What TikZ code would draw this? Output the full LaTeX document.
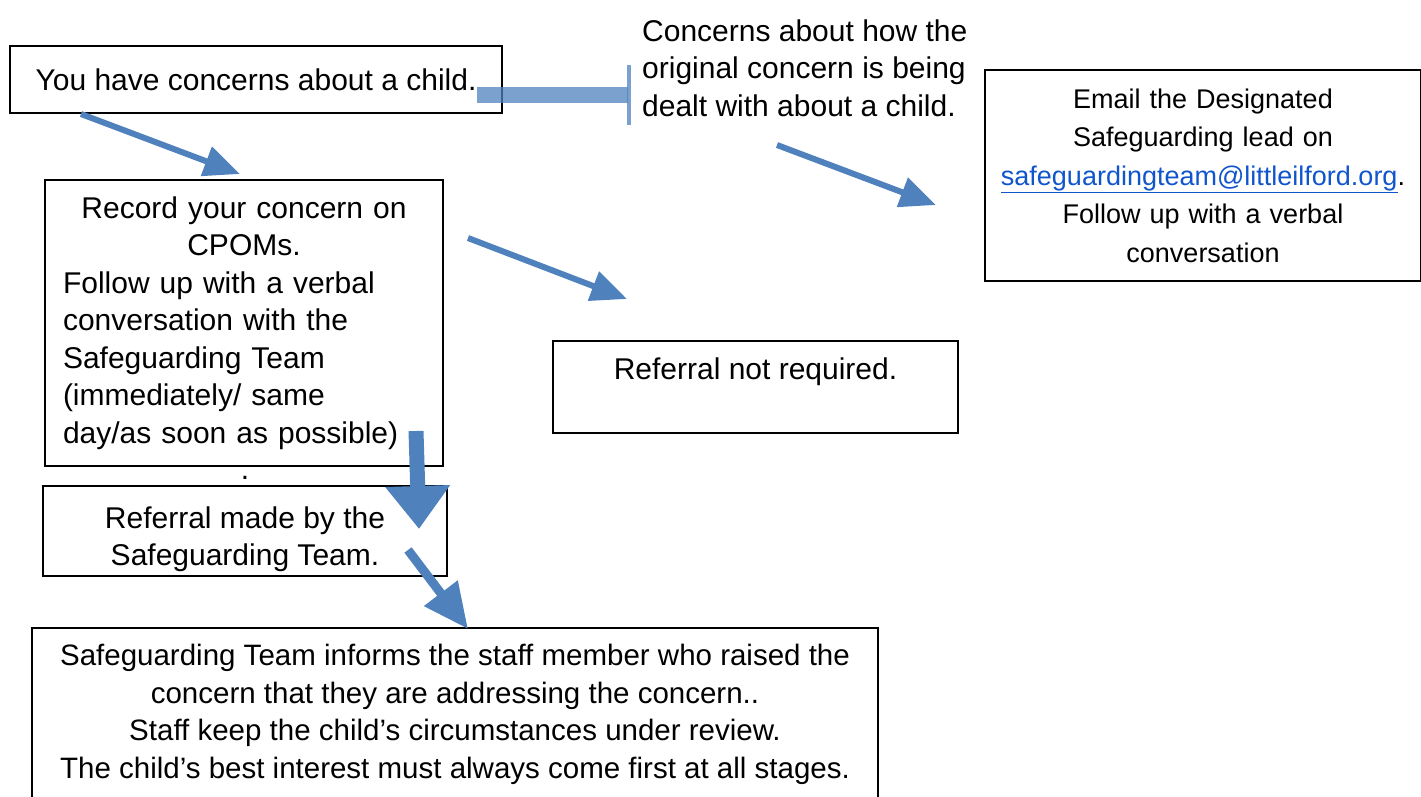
\documentclass[tikz,border=0pt]{standalone}
\usepackage{fontspec}
\setmainfont{Liberation Sans}
\usetikzlibrary{arrows.meta, positioning, calc}
\definecolor{arrowblue}{RGB}{79,129,189}
\definecolor{linkblue}{RGB}{17,85,204}
\newcommand{\bodyfont}{\fontsize{30}{37.5}\selectfont}
\newcommand{\emailfont}{\fontsize{27}{38.5}\selectfont}
\newcommand{\reviewfont}{\fontsize{29.5}{37.7}\selectfont}
\tikzset{
  box/.style={rectangle, draw=black, line width=2pt, inner sep=0pt,
    align=center, font=\bodyfont},
  plaintext/.style={inner sep=0pt, align=left, font=\bodyfont},
  slimarrow/.style={-{Triangle[length=36pt,width=30pt]}, line width=6pt, color=arrowblue},
  fatarrow/.style={-{Triangle[length=43pt,width=62pt]}, line width=15pt, color=arrowblue},
  midarrow/.style={-{Triangle[length=45pt,width=40pt]}, line width=9pt, color=arrowblue},
  barlink/.style={-{Bar[width=60pt,line width=4pt]}, line width=16pt,
    color=arrowblue, draw opacity=0.75}
}

\begin{document}
\begin{tikzpicture}[x=1pt, y=-1pt]
  \useasboundingbox (0,0) rectangle (1421,796);
  \clip (0,0) rectangle (1421,796);
  % Boxes
  \node[box, minimum width=492, minimum height=67] (youhave) at (256,79.5)
    {You have concerns about a child.};
  \node[plaintext, anchor=west] (concern) at (642,68)
    {Concerns about how the\\original concern is being\\dealt with about a child.};
  \node[box, minimum width=436, minimum height=211, text width=420, font=\emailfont] (email) at (1203,175.5)
    {Email the Designated\\Safeguarding lead on\\
     {\color{linkblue}\underline{safeguardingteam@littleilford.org}}.\\
     Follow up with a verbal\\conversation};
  \node[box, minimum width=398, minimum height=286, text width=362, align=left] (record) at (244,323)
    {{\centering Record your concern on\\CPOMs.\par}
     Follow up with a verbal\\conversation with the\\Safeguarding Team\\
     (immediately/ same\\day/as soon as possible)};
  \node[plaintext] (dot) at (245,478) {.};
  \node[box, minimum width=405, minimum height=92] (notreq) at (755.5,387)
    {Referral not required.\\ \mbox{}};
  \node[box, minimum width=404, minimum height=90] (made) at (245,531) {};
  \node[plaintext, align=center] (madetext) at (245,539)
    {Referral made by the\\Safeguarding Team.};
  \node[box, minimum width=846, minimum height=204, font=\reviewfont] (informs) at (455,730)
    {Safeguarding Team informs the staff member who raised the\\
     concern that they are addressing the concern..\\
     Staff keep the child’s circumstances under review.\\
     The child’s best interest must always come first at all stages.\\ \mbox{}};
  % Connectors
  \draw[barlink] ($(youhave.east)+(-26,15.5)$) -- ($(concern.west)+(-11,27)$);
  \draw[slimarrow] ($(youhave.south west)+(72,0)$) -- ($(record.north)+(-4,-5)$);
  \draw[slimarrow] ($(concern.west)+(135,77)$) -- ($(email.west)+(-48,29.5)$);
  \draw[slimarrow] ($(record.east)+(24,-85)$) -- ($(notreq.north)+(-128.5,-41)$);
  \draw[fatarrow] ($(record.south)+(172,-36)$) -- ($(made.north)+(174,44)$);
  \draw[midarrow] ($(made.east)+(-40,19)$) -- ($(informs.north)+(13,2)$);
\end{tikzpicture}
\end{document}
